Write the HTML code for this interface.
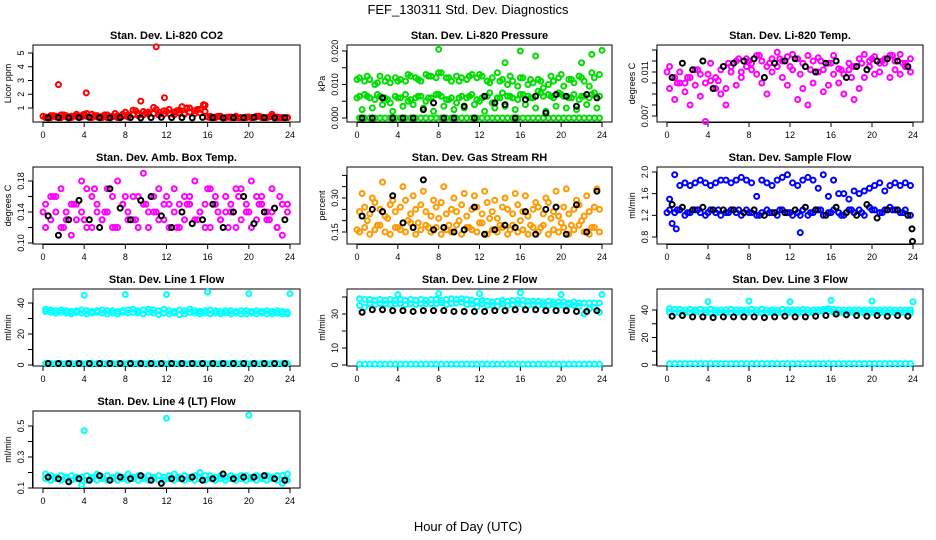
<!DOCTYPE html>
<html><head><meta charset="utf-8">
<style>
html,body{margin:0;padding:0;background:#fff;}
svg{display:block;font-family:"Liberation Sans",sans-serif;}
</style></head>
<body>
<svg id="chart" width="936" height="540" viewBox="0 0 936 540">
<text x="468" y="14" text-anchor="middle" font-size="13">FEF_130311  Std. Dev. Diagnostics</text>
<text x="468" y="531" text-anchor="middle" font-size="13">Hour of Day (UTC)</text>
</svg>
<script>
const hoursA=[0.25,0.75,1.25,1.75,2.25,2.75,3.25,3.75,4.25,4.75,5.25,5.75,6.25,6.75,7.25,7.75,8.25,8.75,9.25,9.75,10.25,10.75,11.25,11.75,12.25,12.75,13.25,13.75,14.25,14.75,15.25,15.75,16.25,16.75,17.25,17.75,18.25,18.75,19.25,19.75,20.25,20.75,21.25,21.75,22.25,22.75,23.25,23.75];
const hoursB=[0.5,1.5,2.5,3.5,4.5,5.5,6.5,7.5,8.5,9.5,10.5,11.5,12.5,13.5,14.5,15.5,16.5,17.5,18.5,19.5,20.5,21.5,22.5,23.5];
const hoursC=[0,1,2,3,4,5,6,7,8,9,10,11,12,13,14,15,16,17,18,19,20,21,22,23];
const xTicks=[0,4,8,12,16,20,24];

const co2A=[0.35,0.45,0.4,0.5,0.45,0.4,0.55,0.45,0.6,0.55,0.45,0.4,0.5,0.4,0.45,0.55,0.5,0.85,0.6,0.75,0.7,1.05,0.7,0.8,0.9,0.7,0.85,0.6,1.0,0.8,0.9,1.2,0.4,0.35,0.4,0.3,0.35,0.4,0.3,0.35,0.3,0.4,0.35,0.3,0.55,0.35,0.3,0.3];
const co2B=[0.3,0.3,0.35,0.3,0.35,0.3,0.4,0.35,0.4,0.3,0.35,0.3,0.3,0.35,0.3,0.4,0.35,0.5,0.45,0.5,0.55,0.6,0.5,0.55,0.6,0.5,0.65,0.55,0.7,0.6,0.65,0.75,0.3,0.3,0.35,0.3,0.3,0.3,0.3,0.3,0.3,0.35,0.3,0.3,0.4,0.3,0.3,0.3];
const co2C=[0.4,0.45,0.5,0.4,0.55,0.45,0.5,0.6,0.7,0.8,0.65,0.9,0.75,0.8,1.0,0.9,0.35,0.4,0.35,0.3,0.35,0.4,0.35,0.3];
const co2OutX=[1.5,4.2,11,11.8,9.5,13.5,15.6];
const co2OutY=[2.7,2.1,5.45,1.75,1.5,1.1,1.25];
const co2Black=[0.28,0.3,0.28,0.3,0.32,0.3,0.28,0.3,0.3,0.28,0.3,0.32,0.3,0.3,0.28,0.32,0.3,0.28,0.3,0.3,0.32,0.3,0.28,0.3];

const presA=[0.012,0.011,0.0115,0.010,0.0125,0.011,0.0105,0.012,0.0115,0.011,0.0125,0.012,0.011,0.013,0.0125,0.012,0.0135,0.012,0.011,0.0125,0.012,0.0115,0.013,0.012,0.0125,0.011,0.012,0.0135,0.0115,0.010,0.011,0.0095,0.012,0.010,0.0105,0.0115,0.009,0.010,0.011,0.012,0.0095,0.0115,0.0105,0.0125,0.011,0.0095,0.012,0.013];
const presB=[0.0065,0.007,0.006,0.0055,0.0065,0.006,0.0045,0.0065,0.006,0.007,0.0055,0.006,0.0065,0.005,0.006,0.007,0.0065,0.0055,0.006,0.0045,0.0065,0.006,0.007,0.0055,0.006,0.0065,0.0045,0.006,0.0075,0.0065,0.006,0.0055,0.007,0.0065,0.006,0.008,0.0065,0.007,0.006,0.0075,0.0065,0.006,0.007,0.0055,0.0065,0.006,0.0075,0.0065];
const presZero=[0,0,0,0,0,0,0,0,0,0,0,0,0,0,0,0,0,0,0,0,0,0,0,0,0,0,0,0,0,0,0,0,0,0,0,0,0,0,0,0,0,0,0,0,0,0,0,0];
const presD=[0.0025,0.003,0.004,0.002,0.0035,0.004,0.003,0.002,0.0035,0.0025,0.003,0.004,0.002,0.003,0.0035,0.0025,0.004,0.003,0.002,0.0035,0.003,0.0025,0.004,0.003];
const presE=[0.0115,0.0125,0.0105,0.012,0.011,0.013,0.0115,0.0125,0.0135,0.012,0.011,0.0125,0.013,0.0105,0.011,0.0125,0.012,0.0115,0.011,0.0125,0.013,0.0115,0.012,0.0135];
const presF=[0.006,0.0065,0.007,0.0055,0.006,0.005,0.0065,0.006,0.007,0.0055,0.006,0.0065,0.005,0.0075,0.006,0.0065,0.007,0.006,0.0075,0.0065,0.007,0.006,0.0065,0.007];
const presOutX=[8,14.5,16,17.5,22,23,24];
const presOutY=[0.0205,0.0165,0.020,0.0185,0.0165,0.019,0.0202];
const presBlack=[0,0,0.006,0,0,0,0.0025,0.0045,0,0,0.0035,0,0.0065,0.0045,0.004,0,0.0055,0.0065,0.0015,0.007,0.0065,0.0035,0.007,0.006];

const tempA=[0.0115,0.0105,0.011,0.0100,0.0105,0.0112,0.0108,0.0100,0.0118,0.0105,0.0112,0.0095,0.0115,0.0120,0.0110,0.0122,0.0118,0.0125,0.0120,0.0115,0.0122,0.0128,0.0120,0.0124,0.0126,0.0122,0.0118,0.0125,0.0120,0.0123,0.0112,0.0118,0.0125,0.0113,0.0108,0.0118,0.0115,0.0122,0.0126,0.0120,0.0124,0.0118,0.0122,0.0125,0.0120,0.0126,0.0118,0.0122];
const tempB=[0.0095,0.0085,0.0100,0.0092,0.0080,0.0098,0.0088,0.0065,0.0102,0.0095,0.0090,0.0080,0.0110,0.0098,0.0105,0.0115,0.0112,0.0108,0.0100,0.0090,0.0110,0.0115,0.0105,0.0098,0.0112,0.0085,0.0095,0.0080,0.0100,0.0110,0.0092,0.0098,0.0108,0.0100,0.0090,0.0112,0.0085,0.0095,0.0105,0.0115,0.0108,0.0110,0.0118,0.0105,0.0112,0.0108,0.0115,0.0110];
const tempC=[0.0110,0.0100,0.0105,0.0112,0.0108,0.0102,0.0118,0.0122,0.0120,0.0125,0.0118,0.0122,0.0115,0.0108,0.0112,0.0120,0.0118,0.0112,0.0105,0.0118,0.0122,0.0120,0.0125,0.0118];
const tempBlack=[0.0105,0.0118,0.0112,0.0120,0.0095,0.0115,0.0118,0.0120,0.0122,0.0105,0.0118,0.0120,0.0122,0.0115,0.0110,0.0118,0.0120,0.0105,0.0115,0.0112,0.0120,0.0122,0.0120,0.0115];

const ambA=[0.15,0.13,0.16,0.12,0.14,0.15,0.13,0.14,0.17,0.12,0.15,0.13,0.14,0.16,0.12,0.15,0.14,0.13,0.16,0.15,0.12,0.14,0.17,0.13,0.15,0.14,0.12,0.16,0.15,0.13,0.14,0.15,0.12,0.16,0.13,0.14,0.15,0.17,0.13,0.14,0.12,0.16,0.15,0.13,0.14,0.12,0.15,0.14];
const ambB=[0.12,0.16,0.14,0.17,0.13,0.11,0.15,0.18,0.12,0.16,0.14,0.13,0.17,0.12,0.18,0.15,0.13,0.16,0.12,0.19,0.14,0.16,0.13,0.15,0.12,0.17,0.15,0.13,0.16,0.18,0.14,0.12,0.17,0.15,0.13,0.16,0.14,0.12,0.17,0.15,0.18,0.13,0.16,0.14,0.17,0.12,0.11,0.15];
const ambC=[0.14,0.16,0.12,0.15,0.13,0.17,0.14,0.12,0.16,0.13,0.15,0.14,0.16,0.12,0.15,0.13,0.17,0.14,0.12,0.16,0.14,0.15,0.13,0.16];
const ambBlack=[0.135,0.11,0.13,0.155,0.13,0.12,0.17,0.145,0.13,0.155,0.16,0.135,0.12,0.14,0.125,0.13,0.15,0.12,0.14,0.16,0.125,0.14,0.145,0.13];

const rhA=[0.15,0.17,0.14,0.16,0.18,0.15,0.14,0.17,0.16,0.15,0.19,0.14,0.16,0.18,0.15,0.17,0.14,0.16,0.15,0.18,0.14,0.17,0.16,0.15,0.19,0.14,0.16,0.15,0.17,0.14,0.18,0.15,0.16,0.14,0.17,0.15,0.18,0.14,0.16,0.15,0.17,0.14,0.16,0.18,0.15,0.14,0.17,0.15];
const rhB=[0.24,0.26,0.23,0.28,0.25,0.22,0.27,0.24,0.26,0.29,0.23,0.25,0.27,0.24,0.22,0.26,0.28,0.23,0.25,0.24,0.27,0.22,0.25,0.26,0.23,0.28,0.24,0.21,0.26,0.25,0.23,0.27,0.24,0.22,0.25,0.26,0.23,0.28,0.24,0.22,0.26,0.23,0.25,0.27,0.22,0.24,0.26,0.25];
const rhC=[0.32,0.30,0.37,0.29,0.35,0.31,0.33,0.29,0.35,0.30,0.32,0.31,0.33,0.29,0.30,0.32,0.31,0.28,0.30,0.33,0.34,0.29,0.31,0.34];
const rhD=[0.16,0.20,0.18,0.21,0.17,0.20,0.19,0.17,0.21,0.18,0.20,0.17,0.19,0.21,0.18,0.16,0.20,0.18,0.17,0.21,0.19,0.18,0.20,0.17];
const rhBlack=[0.22,0.25,0.24,0.31,0.19,0.17,0.38,0.16,0.17,0.15,0.16,0.26,0.14,0.16,0.18,0.17,0.24,0.14,0.25,0.26,0.14,0.27,0.15,0.33];

const flowA=[1.5,1.95,1.75,1.8,1.75,1.8,1.85,1.8,1.75,1.8,1.85,1.85,1.8,1.85,1.9,1.85,1.8,1.55,1.85,1.8,1.75,1.85,1.9,1.95,1.8,1.75,1.85,1.9,1.85,1.7,1.95,1.55,1.85,1.6,1.6,1.5,1.65,1.6,1.65,1.7,1.75,1.8,1.65,1.75,1.8,1.75,1.8,1.75];
const flowB=[1.3,1.25,1.3,1.2,1.25,1.3,1.25,1.2,1.3,1.25,1.2,1.25,1.3,1.25,1.2,1.3,1.25,1.2,1.25,1.3,1.25,1.2,1.3,1.25,1.2,1.25,1.3,1.2,1.25,1.3,1.2,1.25,1.3,1.25,1.2,1.3,1.25,1.3,1.2,1.35,1.3,1.25,1.3,1.35,1.3,1.25,1.3,1.2];
const flowC=[1.25,1.3,1.25,1.3,1.25,1.3,1.25,1.3,1.25,1.2,1.25,1.3,1.25,1.2,1.25,1.3,1.25,1.2,1.3,1.25,1.3,1.25,1.3,1.25];
const flowOutX=[0.5,0.9,13];
const flowOutY=[1.05,0.95,0.88];
const flowBlack=[1.4,1.35,1.3,1.35,1.3,1.3,1.3,1.25,1.3,1.2,1.25,1.25,1.3,1.35,1.3,1.2,1.35,1.25,1.2,1.4,1.15,1.3,1.3,1.2];
const flowBlackOutX=[23.9,23.95];
const flowBlackOutY=[0.95,0.72];

const l1A=[36,35.5,35,35.5,35,34.5,35,35.5,35,34.5,35,35.5,35,35,34.5,35,35.5,36,35,35.5,36,35.5,35,36,35,34.5,35.5,35,36,35,34.5,35,35.5,35,34.5,35,35,34.5,35,35,34.5,35,34.5,35,34.5,35,34.5,34];
const l1B=[34.5,34,33.5,34,33.5,33,34,33.5,33,33.5,34,33.5,33,33.5,33,34,33.5,34,33.5,33,34,33.5,32.5,33.5,33,33.5,32.5,33,34,33.5,33,33.5,33,33.5,33,33.5,33,33.5,33,33,33.5,33,33.5,33,33,33.5,33,33];
const l1Low=[1,1,1,1,1,1,1,1,1,1,1,1,1,1,1,1,1,1,1,1,1,1,1,1,1,1,1,1,1,1,1,1,1,1,1,1,1,1,1,1,1,1,1,1,1,1,1,1];
const l1OutX=[4,8,12,16,20,24];
const l1OutY=[45,45.5,45.5,47,46,46];
const l1Black=[1,1,1,1,1,1,1,1,1,1,1,1,1,1,1,1,1,1,1,1,1,1,1,1];

const l2A=[39,38.5,38.5,38,38.5,38,38.5,38,38.5,38,38.5,38,38.5,38,38.5,38.5,38,38.5,39,38.5,39,38.5,38,37.5,38,37.5,37,37.5,38,37.5,38,38,38,37.5,37.5,37.5,37,37.5,37,37,37,36.5,37,36.5,36.5,36.5,36.5,36.5];
const l2B=[35,34,36,35.5,36,36,35.5,36,36,35.5,36,35.5,36,36,36,36,36.5,35.5,36,36.5,37,35.5,36,34,36,35,35,34.5,36,35,35.5,36,35.5,35,35.5,35,35.5,35,35.5,35,35,35.5,35,34.5,30,33,34,31];
const l2Low=[0.5,0.5,0.5,0.5,0.5,0.5,0.5,0.5,0.5,0.5,0.5,0.5,0.5,0.5,0.5,0.5,0.5,0.5,0.5,0.5,0.5,0.5,0.5,0.5,0.5,0.5,0.5,0.5,0.5,0.5,0.5,0.5,0.5,0.5,0.5,0.5,0.5,0.5,0.5,0.5,0.5,0.5,0.5,0.5,0.5,0.5,0.5,0.5];
const l2OutX=[4,8,12,16,20,24];
const l2OutY=[41.5,42,42,42.5,41.5,41.5];
const l2Black=[31,32.5,32.5,32,32,31.5,32,32,32,31.5,31.5,31.5,31.5,32,32,32.5,32.5,32.5,32,32,32,31.5,31.5,32];

const l3A=[41,40.5,40.5,40,40.5,40,40.5,40,40.5,40,40,40,40.5,40,40,40,40.5,40,40.5,40,40,40,40.5,40,40,40,40.5,40,40,40,40.5,41,40.5,40,40,40,40,40,40,40,40,40,40,40,40,40,40,40];
const l3B=[38.5,38,38,38,38,38.5,38,38,38,38,38,38,38,38,38,38,38,38,38,38,38,38,38,38,38,38,38,38,38,38.5,39,39,38.5,38,38,38,38,38,38,38,38,38,38,38,38,38,38,38];
const l3Low=[1,1,1,1,1,1,1,1,1,1,1,1,1,1,1,1,1,1,1,1,1,1,1,1,1,1,1,1,1,1,1,1,1,1,1,1,1,1,1,1,1,1,1,1,1,1,1,1];
const l3OutX=[4,8,12,16,20,24];
const l3OutY=[46,46.5,46,47,46.5,46];
const l3Black=[35.5,36,35,35,34.5,35,35,35,35,34.5,35,35.5,35,35,35.5,36,37,36.5,36,35.5,36,35.5,36,35.5];

const l4A=[0.19,0.18,0.17,0.18,0.17,0.18,0.17,0.17,0.18,0.17,0.19,0.17,0.18,0.17,0.18,0.17,0.19,0.17,0.18,0.17,0.18,0.17,0.18,0.17,0.18,0.19,0.17,0.18,0.17,0.18,0.2,0.18,0.18,0.17,0.18,0.17,0.18,0.17,0.18,0.18,0.17,0.18,0.17,0.18,0.17,0.18,0.18,0.19];
const l4B=[0.16,0.15,0.16,0.15,0.16,0.15,0.16,0.12,0.15,0.16,0.15,0.16,0.15,0.16,0.15,0.16,0.15,0.16,0.15,0.16,0.15,0.16,0.15,0.15,0.16,0.15,0.16,0.15,0.16,0.15,0.16,0.15,0.16,0.15,0.16,0.15,0.16,0.15,0.16,0.15,0.16,0.15,0.16,0.15,0.16,0.15,0.13,0.15];
const l4OutX=[4,12,20];
const l4OutY=[0.47,0.55,0.57];
const l4Black=[0.17,0.16,0.14,0.16,0.15,0.18,0.15,0.17,0.16,0.18,0.15,0.13,0.16,0.16,0.17,0.15,0.16,0.19,0.16,0.17,0.17,0.18,0.16,0.15];

const svg=document.getElementById('chart');
const NS='http://www.w3.org/2000/svg';
const colBox=[[33,300],[347,612],[657,923]];
const rowBox=[[45,122],[167,244],[289,366],[411,488]];

function mk(tag,parent){const e=document.createElementNS(NS,tag);parent.appendChild(e);return e;}

function makePanel(col,row,title,ylab,yv0,yp0,yv1,yp1,yTicks,yLabels,key){
  const [bx0,bx1]=colBox[col],[by0,by1]=rowBox[row];
  const g=mk('g',svg);
  
  
  const xs=h=>bx0+10+(bx1-bx0-20)*h/24;
  const ys=v=>yp0+(v-yv0)*(yp1-yp0)/(yv1-yv0);
  const t=mk('text',g);t.textContent=title;
  
  
  t.setAttribute('x',(bx0+bx1)/2);t.setAttribute('y',by0-6);t.setAttribute('text-anchor','middle');t.setAttribute('font-size','11');t.setAttribute('font-weight','bold');
  const r=mk('rect',g);
  
  
  r.setAttribute('x',bx0);r.setAttribute('y',by0);r.setAttribute('width',bx1-bx0);r.setAttribute('height',by1-by0);r.setAttribute('fill','none');r.setAttribute('stroke','#000');
  const xa=mk('path',g);
  
  
  let d='M'+xs(xTicks[0])+' '+(by1+0.5)+'H'+xs(xTicks[xTicks.length-1]);
  xTicks.forEach(v=>{d+='M'+xs(v)+' '+by1+'v5';});
  xa.setAttribute('d',d);xa.setAttribute('stroke','#000');xa.setAttribute('fill','none');
  xTicks.forEach(v=>{const l=mk('text',g);l.textContent=v;
    
    
    l.setAttribute('x',xs(v));l.setAttribute('y',by1+16);l.setAttribute('text-anchor','middle');l.setAttribute('font-size','9');});
  const ya=mk('path',g);
  
  
  let e='M'+(bx0-0.5)+' '+ys(yTicks[0])+'V'+ys(yTicks[yTicks.length-1]);
  yTicks.forEach(v=>{e+='M'+bx0+' '+ys(v)+'h-5';});
  ya.setAttribute('d',e);ya.setAttribute('stroke','#000');ya.setAttribute('fill','none');
  yLabels.forEach(v=>{const l=mk('text',g);l.textContent=v;
    
    
    const px=bx0-9,py=ys(parseFloat(v));
    l.setAttribute('transform','translate('+px+','+py+') rotate(-90)');l.setAttribute('text-anchor','middle');l.setAttribute('font-size','9');});
  const yl=mk('text',g);yl.textContent=ylab;
  
  
  yl.setAttribute('transform','translate('+(bx0-22)+','+((by0+by1)/2)+') rotate(-90)');yl.setAttribute('text-anchor','middle');yl.setAttribute('font-size','9');
  return {g,xs,ys,key};
}
function series(p,xv,yv,color,name){
  const sg=mk('g',p.g);
  
  
  sg.setAttribute('fill','none');sg.setAttribute('stroke',color);sg.setAttribute('stroke-width','2');
  for(let i=0;i<yv.length;i++){
    const c=mk('circle',sg);
    
    
    c.setAttribute('cx',p.xs(xv[i]));c.setAttribute('cy',p.ys(yv[i]));c.setAttribute('r','2.5');
  }
}
const RED='#ff0000',GRN='#00dd00',MAG='#ff00ff',ORG='#ff9900',BLU='#0000ff',CYN='#00ffff',BLK='#000';

let p=makePanel(0,0,'Stan. Dev. Li-820 CO2','Licor ppm',1,108,5,53,[1,2,3,4,5],['1','2','3','4','5'],'co2');
series(p,hoursA,co2A,RED,'red-series');series(p,hoursA,co2B,RED,'red-series-2');series(p,hoursC,co2C,RED,'red-series-3');series(p,co2OutX,co2OutY,RED,'red-outliers');series(p,hoursB,co2Black,BLK,'black-series');

p=makePanel(1,0,'Stan. Dev. Li-820 Pressure','kPa',0,118,0.02,51,[0,0.005,0.01,0.015,0.02],['0.000','0.010','0.020'],'pressure');
series(p,hoursA,presA,GRN,'green-upper');series(p,hoursC,presE,GRN,'green-upper-2');series(p,hoursA,presB,GRN,'green-mid');series(p,hoursC,presF,GRN,'green-mid-2');series(p,hoursA,presZero,GRN,'green-zero');series(p,hoursB,presD,GRN,'green-low');series(p,presOutX,presOutY,GRN,'green-outliers');series(p,hoursB,presBlack,BLK,'black-series');

p=makePanel(2,0,'Stan. Dev. Li-820 Temp.','degrees C',0.007,116,0.011,72,[0.007,0.008,0.009,0.010,0.011,0.012,0.013],['0.007','0.011'],'li820-temp');
series(p,hoursA,tempB,MAG,'magenta-low');series(p,hoursA,tempA,MAG,'magenta-high');series(p,hoursC,tempC,MAG,'magenta-mid');series(p,hoursB,tempBlack,BLK,'black-series');

p=makePanel(0,1,'Stan. Dev. Amb. Box Temp.','degrees C',0.10,243,0.18,181,[0.10,0.12,0.14,0.16,0.18],['0.10','0.14','0.18'],'amb-temp');
series(p,hoursA,ambA,MAG,'magenta-a');series(p,hoursA,ambB,MAG,'magenta-b');series(p,hoursC,ambC,MAG,'magenta-c');series(p,hoursB,ambBlack,BLK,'black-series');

p=makePanel(1,1,'Stan. Dev. Gas Stream RH','percent',0.15,232,0.30,198,[0.15,0.20,0.25,0.30,0.35,0.40],['0.15','0.30'],'rh');
series(p,hoursA,rhA,ORG,'orange-low');series(p,hoursC,rhD,ORG,'orange-low-2');series(p,hoursA,rhB,ORG,'orange-high');series(p,hoursB,rhC,ORG,'orange-upper');series(p,hoursB,rhBlack,BLK,'black-series');

p=makePanel(2,1,'Stan. Dev. Sample Flow','ml/min',0.8,237,2.0,172,[0.8,1.2,1.6,2.0],['0.8','1.2','1.6','2.0'],'sample-flow');
series(p,hoursA,flowA,BLU,'blue-upper');series(p,hoursA,flowB,BLU,'blue-lower');series(p,hoursC,flowC,BLU,'blue-lower-2');series(p,flowOutX,flowOutY,BLU,'blue-outliers');series(p,hoursB,flowBlack,BLK,'black-series');series(p,flowBlackOutX,flowBlackOutY,BLK,'black-outliers');

p=makePanel(0,2,'Stan. Dev. Line 1 Flow','ml/min',0,365,40,303,[0,10,20,30,40],['0','20','40'],'line1');
series(p,hoursA,l1A,CYN,'cyan-band');series(p,hoursA,l1B,CYN,'cyan-band-2');series(p,hoursA,l1Low,CYN,'cyan-low');series(p,l1OutX,l1OutY,CYN,'cyan-outliers');series(p,hoursB,l1Black,BLK,'black-series');

p=makePanel(1,2,'Stan. Dev. Line 2 Flow','ml/min',0,365,30,314,[0,10,20,30,40],['0','10','30'],'line2');
series(p,hoursA,l2A,CYN,'cyan-band');series(p,hoursA,l2B,CYN,'cyan-band-2');series(p,hoursA,l2Low,CYN,'cyan-low');series(p,l2OutX,l2OutY,CYN,'cyan-outliers');series(p,hoursB,l2Black,BLK,'black-series');

p=makePanel(2,2,'Stan. Dev. Line 3 Flow','ml/min',0,365,40,310,[0,10,20,30,40],['0','20','40'],'line3');
series(p,hoursA,l3A,CYN,'cyan-band');series(p,hoursA,l3B,CYN,'cyan-band-2');series(p,hoursA,l3Low,CYN,'cyan-low');series(p,l3OutX,l3OutY,CYN,'cyan-outliers');series(p,hoursB,l3Black,BLK,'black-series');

p=makePanel(0,3,'Stan. Dev. Line 4 (LT) Flow','ml/min',0.1,488,0.5,426,[0.1,0.2,0.3,0.4,0.5],['0.1','0.3','0.5'],'line4');
series(p,hoursA,l4A,CYN,'cyan-band');series(p,hoursA,l4B,CYN,'cyan-band-2');series(p,l4OutX,l4OutY,CYN,'cyan-outliers');series(p,hoursB,l4Black,BLK,'black-series');
</script>
</body></html>
